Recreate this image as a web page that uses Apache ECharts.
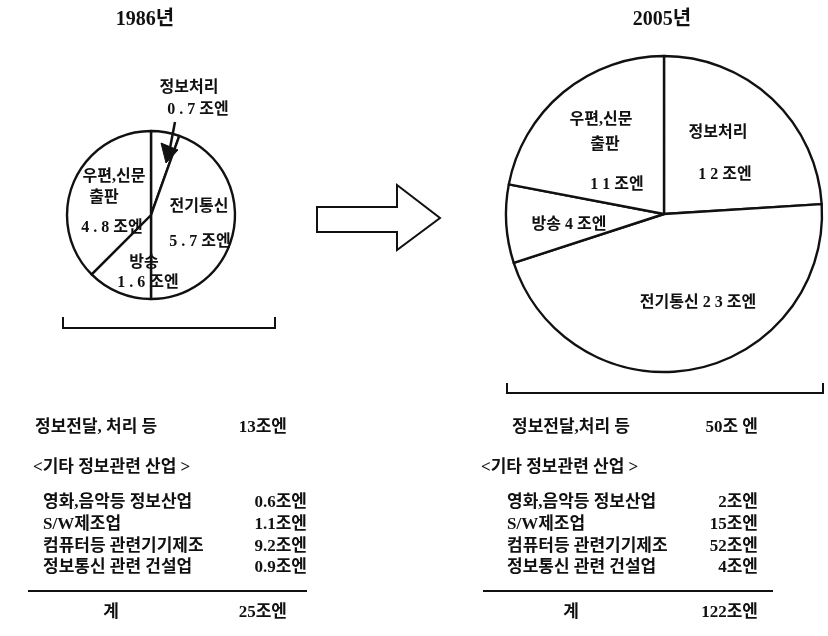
<!DOCTYPE html>
<html>
<head>
<meta charset="utf-8">
<script src="https://cdn.jsdelivr.net/npm/echarts@6/dist/echarts.min.js"></script>
<style>
  html, body { margin: 0; padding: 0; background: #fff; }
  #main { width: 828px; height: 636px; }
</style>
</head>
<body>
<div id="main"></div>
<script>
  // 연도
  var years = ['1986년', '2005년'];
  // 정보전달, 처리 분야 (파이 조각, 시계방향)
  var pieNames = ['정보처리', '전기통신', '방송', '우편,신문 출판'];
  var pie1986 = [0.7, 5.7, 1.6, 4.8];
  var pie2005 = [12, 23, 4, 11];
  // 기타 정보관련 산업
  var otherNames = ['영화,음악등 정보산업', 'S/W제조업', '컴퓨터등 관련기기제조', '정보통신 관련 건설업'];
  var other1986 = [0.6, 1.1, 9.2, 0.9];
  var other2005 = [2, 15, 52, 4];
  var subtotal = [13, 50];
  var total = [25, 122];

  var FONT = "'Liberation Serif', 'Noto Sans CJK KR', serif";
  var INK = '#111';
  var PS = 16; // 파이 라벨 글자 크기
  var TS = 17; // 표 글자 크기

  function spaced(v) { return String(v).split('').join(' ') + ' 조엔'; }

  function txt(x, y, s, size, align) {
    return {
      type: 'text', x: x, y: y, z: 100, silent: true,
      style: { text: s, font: 'bold ' + size + 'px ' + FONT, fill: INK,
               align: align || 'center', verticalAlign: 'middle' }
    };
  }
  function poly(points, closed, fill, w) {
    return {
      type: closed ? 'polygon' : 'polyline', z: 100, silent: true,
      shape: { points: points },
      style: { stroke: INK, lineWidth: w || 2, fill: fill || null }
    };
  }

  var g = [];
  // 제목
  g.push(txt(145, 20, years[0], 20));
  g.push(txt(662, 20, years[1], 20));

  // 1986 파이 라벨
  g.push(txt(189, 88, pieNames[0], PS));
  g.push(txt(198, 110, spaced(pie1986[0]), PS));
  g.push(poly([[175, 122], [170, 148]], false, null, 2.5));
  g.push(poly([[161, 143], [178, 150], [166, 163]], true, INK, 1));
  g.push(txt(199, 207, pieNames[1], PS));
  g.push(txt(200, 242, spaced(pie1986[1]), PS));
  g.push(txt(144, 263, pieNames[2], PS));
  g.push(txt(148, 283, spaced(pie1986[2]), PS));
  g.push(txt(114, 177, pieNames[3].split(' ')[0], PS));
  g.push(txt(104, 198, pieNames[3].split(' ')[1], PS));
  g.push(txt(112, 228, spaced(pie1986[3]), PS));

  // 2005 파이 라벨
  g.push(txt(718, 133, pieNames[0], PS));
  g.push(txt(725, 175, spaced(pie2005[0]), PS));
  g.push(txt(698, 303, pieNames[1] + ' ' + spaced(pie2005[1]), PS));
  g.push(txt(569, 225, pieNames[2] + ' ' + spaced(pie2005[2]), PS));
  g.push(txt(601, 120, pieNames[3].split(' ')[0], PS));
  g.push(txt(605, 145, pieNames[3].split(' ')[1], PS));
  g.push(txt(617, 185, spaced(pie2005[3]), PS));

  // 가운데 화살표
  g.push(poly([[317, 207], [397, 207], [397, 185], [440, 218], [397, 250], [397, 232], [317, 232]], true, '#fff', 2));

  // 괄호
  g.push(poly([[63, 317], [63, 328], [275, 328], [275, 317]], false, null, 2));
  g.push(poly([[507, 383], [507, 393], [823, 393], [823, 383]], false, null, 2));

  // 표 (좌: 1986, 우: 2005)
  var tables = [
    { head: '정보전달, 처리 등', hx: 35, sub: subtotal[0] + '조엔', other: other1986,
      ox: 33, ix: 43, vx: 307, sx: 287, lx: [28, 307], kx: 111 },
    { head: '정보전달,처리 등', hx: 512, sub: subtotal[1] + '조 엔', other: other2005,
      ox: 481, ix: 507, vx: 758, sx: 758, lx: [483, 773], kx: 571 }
  ];
  var rowY = [503, 525, 547, 568];
  tables.forEach(function (t, k) {
    g.push(txt(t.hx, 428, t.head, TS, 'left'));
    g.push(txt(t.sx, 428, t.sub, TS, 'right'));
    g.push(txt(t.ox, 468, '<기타 정보관련 산업 >', TS, 'left'));
    otherNames.forEach(function (n, i) {
      g.push(txt(t.ix, rowY[i], n, TS, 'left'));
      g.push(txt(t.vx, rowY[i], t.other[i] + '조엔', TS, 'right'));
    });
    g.push(poly([[t.lx[0], 591], [t.lx[1], 591]], false, null, 2));
    g.push(txt(t.kx, 613, '계', TS));
    g.push(txt(t.sx, 613, total[k] + '조엔', TS, 'right'));
  });

  function pieSeries(values, center, radius) {
    return {
      type: 'pie', center: center, radius: radius, startAngle: 90, clockwise: true,
      silent: true, z: 1, label: { show: false }, labelLine: { show: false },
      emphasis: { disabled: true },
      itemStyle: { color: '#fff', borderColor: INK, borderWidth: 2.4 },
      data: values.map(function (v, i) { return { name: pieNames[i], value: v }; })
    };
  }

  var myChart = echarts.init(document.getElementById('main'));
  myChart.setOption({
    backgroundColor: '#fff',
    animation: false,
    series: [
      pieSeries(pie1986, [151, 215], 84),
      pieSeries(pie2005, [664, 214], 158)
    ],
    graphic: g
  });
</script>
</body>
</html>
